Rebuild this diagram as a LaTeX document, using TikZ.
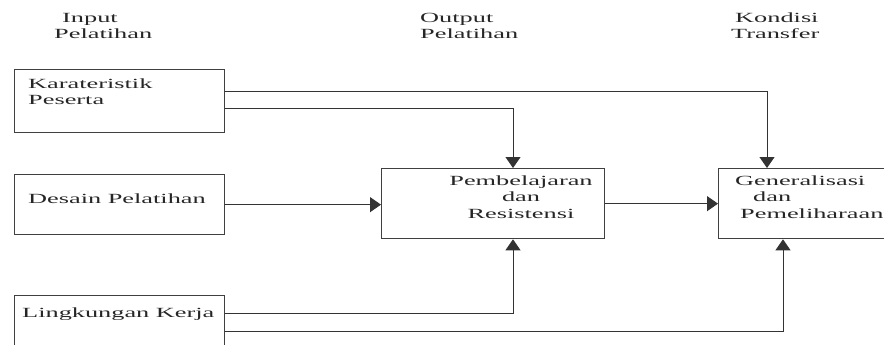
\documentclass[tikz,border=0pt]{standalone}
\usepackage{fontspec}
\setmainfont[FakeStretch=1.88]{Liberation Serif}
\usetikzlibrary{arrows.meta}

\begin{document}
\begin{tikzpicture}[x=1pt, y=-1pt,
        kotak/.style={draw=black!75, line width=1.3pt, inner sep=0pt, anchor=north west},
        teks/.style={text=black!85, inner sep=0pt, anchor=base west, align=left,
            font=\fontsize{14}{16.5}\selectfont},
        garis/.style={draw=black!80, line width=1pt},
        panah/.style={garis, -{Triangle[length=11pt,width=15pt]}}]
    \useasboundingbox (0,0) rectangle (884,345);

    % Judul kolom (base = baris terakhir)
    \node[teks] (jinput)   at (54,39)  {\hspace*{8pt}Input\\Pelatihan};
    \node[teks] (joutput)  at (420,39) {Output\\Pelatihan};
    \node[teks] (jkondisi) at (731,39) {\hspace*{4pt}Kondisi\\Transfer};

    % Kotak input
    \node[kotak, minimum width=210pt, minimum height=63pt] (peserta)    at (14,69)  {};
    \node[kotak, minimum width=210pt, minimum height=60pt] (desain)     at (14,174) {};
    \node[kotak, minimum width=210pt, minimum height=80pt] (lingkungan) at (14,295) {};
    \node[teks] (tpeserta)    at (28,105) {Karateristik\\Peserta};
    \node[teks] (tdesain)     at (28,203) {Desain Pelatihan};
    \node[teks] (tlingkungan) at (22,317) {Lingkungan Kerja};

    % Kotak output dan transfer
    \node[kotak, minimum width=223pt, minimum height=70pt] (belajar) at (381,168) {};
    \node[kotak, minimum width=200pt, minimum height=70pt] (umum)    at (718,168) {};
    \node[teks, anchor=base, align=center] (tbelajar) at (521,218) {Pembelajaran\\dan\\Resistensi};
    \node[teks] (tumum) at (735,218) {Generalisasi\\\hspace*{18pt}dan\\\hspace*{5pt}Pemeliharaan};

    % Panah dari peserta
    \draw[panah] ([yshift=-23pt]peserta.north east) -| ([xshift=49pt]umum.north west);
    \draw[panah] ([yshift=-39pt]peserta.north east) -| ([xshift=132pt]belajar.north west);

    % Panah mendatar
    \draw[panah] (desain.east) -- (desain.east -| belajar.west);
    \draw[panah] (belajar.east) -- (umum.west);

    % Panah dari lingkungan kerja
    \draw[panah] ([yshift=-18pt]lingkungan.north east) -| ([xshift=132pt]belajar.south west);
    \draw[panah] ([yshift=-36pt]lingkungan.north east) -| ([xshift=65pt]umum.south west);
\end{tikzpicture}
\end{document}
